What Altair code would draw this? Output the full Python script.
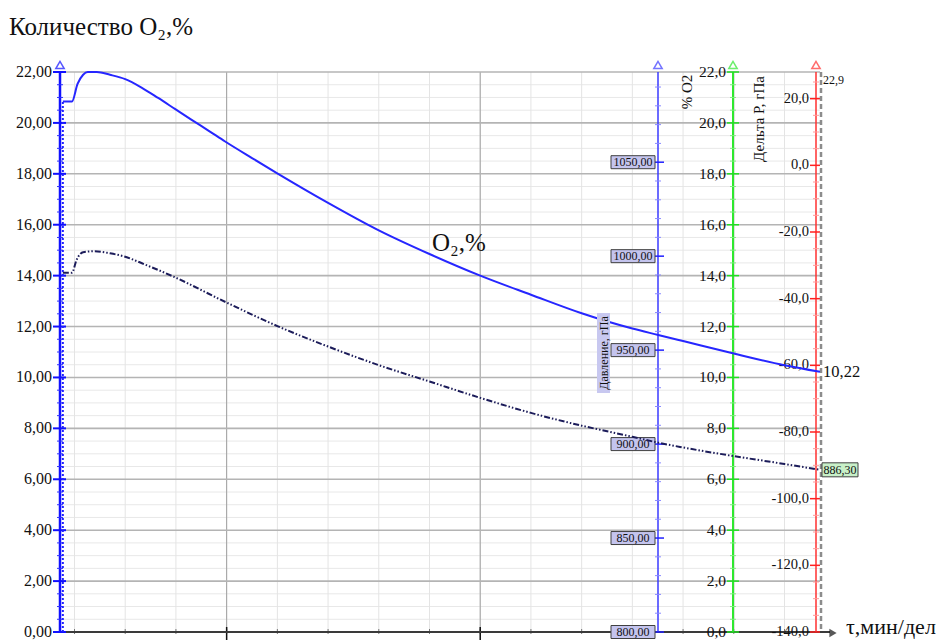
import altair as alt
import pandas as pd

# ---------------- data ----------------
# time in chart divisions (grid lines at integer divisions)
t_o2 = [-0.23, -0.05, 0.06, 0.17, 0.26, 0.44, 0.70, 1.00, 1.33, 1.65, 1.98, 2.31,
        2.64, 2.97, 3.50, 3.99, 5.00, 6.00, 7.00, 8.00, 9.00, 10.00, 11.00, 11.51,
        12.00, 13.00, 14.00, 14.70]
o2 = [20.84, 20.84, 21.53, 21.89, 22.00, 22.00, 21.89, 21.72, 21.38, 20.98, 20.55, 20.12,
      19.70, 19.27, 18.62, 18.03, 16.86, 15.78, 14.85, 14.00, 13.25, 12.52, 11.92, 11.67,
      11.43, 10.94, 10.48, 10.22]

t_p = [-0.23, -0.05, 0.04, 0.17, 0.40, 0.70, 1.00, 1.33, 1.92, 3.00, 4.00, 5.00, 6.00,
       7.00, 8.00, 9.00, 10.00, 11.00, 11.50, 12.00, 13.00, 14.00, 14.70]
p = [991.2, 991.2, 998.0, 1002.1, 1002.6, 1001.5, 999.7, 996.2, 989.5, 975.3, 962.8,
     951.9, 942.0, 933.3, 924.6, 916.6, 909.8, 903.9, 900.8, 898.2, 893.6, 889.4, 886.3]

o2_ticks = [0, 2, 4, 6, 8, 10, 12, 14, 16, 18, 20, 22]
o2_left_labels = ["0,00", "2,00", "4,00", "6,00", "8,00", "10,00", "12,00", "14,00",
                  "16,00", "18,00", "20,00", "22,00"]
o2_right_labels = ["0,0", "2,0", "4,0", "6,0", "8,0", "10,0", "12,0", "14,0",
                   "16,0", "18,0", "20,0", "22,0"]
p_ticks = [800, 850, 900, 950, 1000, 1050]
p_labels = ["800,00", "850,00", "900,00", "950,00", "1000,00", "1050,00"]
dp_ticks = [-140, -120, -100, -80, -60, -40, -20, 0, 20]
dp_labels = ["-140,0", "-120,0", "-100,0", "-80,0", "-60,0", "-40,0", "-20,0", "0,0", "20,0"]

o2_minor = [k * 0.5 for k in range(45) if k % 4 != 0]
p_minor = [800 + 10 * k for k in range(30) if k % 5 != 0]
dp_minor = [-140 + 5 * k for k in range(34) if k % 4 != 0]
t_grid_minor = list(range(0, 15))
t_grid_major = [3, 8, 13]
dp_top_label = "22,9"
o2_end_label = "10,22"
p_end_label = "886,30"

# ---------------- layout ----------------
W, H = 760, 560
FONT = "Liberation Serif"
PX, GX, RX = 598, 673, 756   # pressure / green / red axis positions

xs = alt.Scale(domain=[-0.286, 14.70], nice=False, zero=False)
o2s = alt.Scale(domain=[0, 22], nice=False, zero=False)
ps = alt.Scale(domain=[800, 1098], nice=False, zero=False)
ds = alt.Scale(domain=[-140, 28], nice=False, zero=False)

df_o2 = pd.DataFrame({"t": t_o2, "v": o2})
df_p = pd.DataFrame({"t": t_p, "v": p})
one = pd.DataFrame({"a": [0]})


def Y(scale):
    return alt.Y("v:Q", scale=scale, axis=None)


def vals(values, labels=None):
    d = {"v": values}
    if labels is not None:
        d["s"] = labels
    return pd.DataFrame(d)


def hrule(values, scale, x0, x1, color, width=1.0):
    return alt.Chart(vals(values)).mark_rule(color=color, strokeWidth=width).encode(
        y=Y(scale), x=alt.value(x0), x2=alt.value(x1))


def vline(x, color, width, dash=None):
    kw = dict(color=color, strokeWidth=width)
    if dash:
        kw["strokeDash"] = dash
    return alt.Chart(one).mark_rule(**kw).encode(
        x=alt.value(x), y=alt.value(0), y2=alt.value(H))


def labels_right(values, labels, scale, x, size=15.5):
    return alt.Chart(vals(values, labels)).mark_text(
        align="right", baseline="middle", font=FONT, fontSize=size, color="#111"
    ).encode(y=Y(scale), x=alt.value(x), text="s:N")


def arrow_up(x, color):
    return alt.Chart(one).mark_point(
        shape="triangle-up", filled=False, color=color, size=70, strokeWidth=1.5
    ).encode(x=alt.value(x), y=alt.value(-7))


def text(s, x, y, size, align="left", angle=0, color="#111"):
    kw = dict(align=align, baseline="middle", font=FONT, fontSize=size, color=color)
    if angle:
        kw["angle"] = angle
    return alt.Chart(pd.DataFrame({"s": [s]})).mark_text(**kw).encode(
        x=alt.value(x), y=alt.value(y), text="s:N")


layers = []

# grid
layers.append(hrule(o2_minor, o2s, 0, W, "#e8e8e8", 1))
layers.append(alt.Chart(pd.DataFrame({"t": t_grid_minor})).mark_rule(color="#e4e4e4", strokeWidth=1).encode(
    x=alt.X("t:Q", scale=xs, axis=None), y=alt.value(0), y2=alt.value(H)))
layers.append(alt.Chart(pd.DataFrame({"t": t_grid_major})).mark_rule(color="#a0a0a0", strokeWidth=1).encode(
    x=alt.X("t:Q", scale=xs, axis=None), y=alt.value(0), y2=alt.value(H)))
layers.append(hrule(o2_ticks[1:], o2s, 0, W, "#b4b4b4", 1.6))

# bottom axis
layers.append(alt.Chart(pd.DataFrame({"t": t_grid_minor})).mark_rule(color="#777", strokeWidth=1).encode(
    x=alt.X("t:Q", scale=xs, axis=None), y=alt.value(H - 3), y2=alt.value(H + 2)))
layers.append(alt.Chart(pd.DataFrame({"t": t_grid_major[:2]})).mark_rule(color="#111", strokeWidth=1.5).encode(
    x=alt.X("t:Q", scale=xs, axis=None), y=alt.value(H - 5), y2=alt.value(H + 8)))
layers.append(alt.Chart(one).mark_rule(color="#3a3a3a", strokeWidth=2).encode(
    x=alt.value(0), x2=alt.value(W + 10), y=alt.value(H)))
layers.append(alt.Chart(one).mark_point(shape="triangle-right", filled=True, color="#111", size=70).encode(
    x=alt.value(W + 13), y=alt.value(H + 1)))

# pressure axis (blue, middle)
layers.append(vline(PX, "#3a3aff", 1.5))
layers.append(hrule(p_minor, ps, PX - 3, PX + 3, "#8a8aff", 1))
layers.append(hrule(p_ticks, ps, PX - 3, PX + 6, "#2020ff", 1.5))
layers.append(alt.Chart(vals(p_ticks)).mark_rect(
    fill="#c4c4ee", stroke="#404040", strokeWidth=1, yOffset=-6.5, y2Offset=6.5
).encode(y=Y(ps), y2=alt.Y2("v"), x=alt.value(PX - 47), x2=alt.value(PX - 3)))
layers.append(alt.Chart(vals(p_ticks, p_labels)).mark_text(
    align="center", baseline="middle", font=FONT, fontSize=12, color="#111"
).encode(y=Y(ps), x=alt.value(PX - 25), text="s:N"))
layers.append(arrow_up(PX, "#3a3aff"))

# green O2 axis
layers.append(vline(GX, "#2ee82e", 2))
layers.append(hrule(o2_minor, o2s, GX - 3, GX + 3, "#7cf07c", 1))
layers.append(hrule(o2_ticks, o2s, GX - 6, GX + 6, "#22dd22", 1.5))
layers.append(labels_right(o2_ticks, o2_right_labels, o2s, GX - 7))
layers.append(arrow_up(GX, "#2ee82e"))

# red delta P axis
layers.append(vline(RX, "#ff3030", 1.5))
layers.append(hrule(dp_minor, ds, RX - 3, RX + 3, "#ff9a9a", 1))
layers.append(hrule(dp_ticks, ds, RX - 6, RX + 4, "#ff2020", 1.5))
layers.append(labels_right(dp_ticks, dp_labels, ds, RX - 7, 14.5))
layers.append(arrow_up(RX, "#ff3030"))
layers.append(vline(RX + 5, "#8c8c8c", 2.5, [5, 3]))

# left O2 axis
layers.append(vline(0, "#1010ff", 2.5))
layers.append(hrule(o2_minor, o2s, -3, 3, "#3030ff", 1))
layers.append(hrule(o2_ticks, o2s, -7, 6, "#1010ff", 2))
layers.append(labels_right(o2_ticks, o2_left_labels, o2s, -8, 16))
layers.append(arrow_up(0, "#1010ff"))

# curves
layers.append(alt.Chart(pd.DataFrame({"t": [t_o2[0]], "v": [0], "v2": [o2[0]]})).mark_rule(
    color="#2020ff", strokeWidth=2, strokeDash=[2, 2]).encode(
    x=alt.X("t:Q", scale=xs, axis=None), y=Y(o2s), y2=alt.Y2("v2")))
layers.append(alt.Chart(df_p).mark_line(
    color="#1c1c5a", strokeWidth=2, strokeDash=[6, 2, 1.5, 2, 1.5, 2], interpolate="monotone"
).encode(x=alt.X("t:Q", scale=xs, axis=None), y=Y(ps)))
layers.append(alt.Chart(df_o2).mark_line(
    color="#2626ff", strokeWidth=2, interpolate="monotone"
).encode(x=alt.X("t:Q", scale=xs, axis=None), y=Y(o2s)))

# value labels at the end of the curves
layers.append(alt.Chart(vals([o2[-1]], [o2_end_label])).mark_text(
    align="left", baseline="middle", font=FONT, fontSize=16.5, color="#111"
).encode(y=Y(o2s), x=alt.value(RX + 7), text="s:N"))
layers.append(alt.Chart(vals([p[-1]])).mark_rect(
    fill="#c8f0c8", stroke="#404040", strokeWidth=1, yOffset=-7, y2Offset=7
).encode(y=Y(ps), y2=alt.Y2("v"), x=alt.value(RX + 6), x2=alt.value(RX + 42)))
layers.append(alt.Chart(vals([p[-1]], [p_end_label])).mark_text(
    align="center", baseline="middle", font=FONT, fontSize=12, color="#111"
).encode(y=Y(ps), x=alt.value(RX + 24), text="s:N"))

# texts
layers.append(text("Количество O₂,%", -51, -45, 25))
layers.append(text("% O2", 627, 20, 15, align="center", angle=270))
layers.append(text("Дельта P,  гПа", 699, 47, 15, align="center", angle=270))
layers.append(text(dp_top_label, RX + 7, 8, 12))
layers.append(alt.Chart(one).mark_rect(fill="#c8c8f0").encode(
    x=alt.value(537), x2=alt.value(550), y=alt.value(241), y2=alt.value(321)))
layers.append(text("Давление, гПа", 543.5, 281, 12, align="center", angle=270))
layers.append(text("O₂,%", 372, 171, 25))
layers.append(text("τ,мин/дел", 786, 555, 22))

chart = alt.layer(*layers).resolve_scale(y="independent").properties(
    width=W, height=H,
    autosize=alt.AutoSizeParams(type="none"),
    padding={"left": 52, "top": 64, "right": 122, "bottom": 10},
    background="white",
).configure_view(stroke=None)

chart.save("out.html", embed_options={"renderer": "svg", "actions": False})
